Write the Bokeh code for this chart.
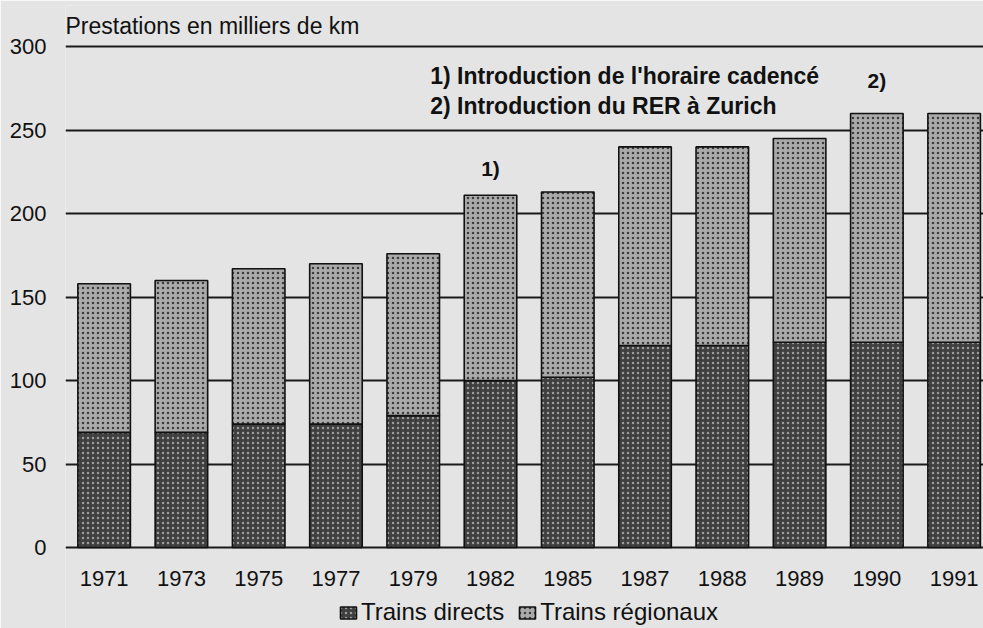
from bokeh.plotting import figure
from bokeh.models import ColumnDataSource, Range1d, FixedTicker, Label, Legend, LegendItem
from bokeh.core.properties import value
from bokeh.embed import file_html
from bokeh.resources import INLINE

years = ["1971", "1973", "1975", "1977", "1979", "1982", "1985", "1987", "1988", "1989", "1990", "1991"]
directs = [69, 69, 74, 74, 79, 100, 102, 121, 121, 123, 123, 123]
totals = [158, 160, 167, 170, 176, 211, 213, 240, 240, 245, 260, 260]
regionaux = [t - d for t, d in zip(totals, directs)]
y_ticks = [0, 50, 100, 150, 200, 250, 300]
notes = ["1) Introduction de l'horaire cadencé", "2) Introduction du RER à Zurich"]
marks = [("1)", 5, 16), ("2)", 10, 20)]

FONT = "Liberation Sans"
BG = "#e4e4e4"
INK = "#111111"

xs = list(range(len(years)))
src = ColumnDataSource(dict(x=xs, directs=directs, regionaux=regionaux, year=years,
                            ylab=[-18.6] * len(years)))

p = figure(width=983, height=628, x_range=Range1d(-0.5, 11.38), y_range=Range1d(-48.5, 324.7),
           output_backend="svg", toolbar_location=None,
           min_border_left=65, min_border_right=0, min_border_top=5, min_border_bottom=0,
           background_fill_color=BG, border_fill_color=BG, outline_line_color=None)

rs = p.vbar_stack(["directs", "regionaux"], x="x", width=0.68, source=src,
                  fill_color=["#3f3f3f", "#aaaaaa"],
                  hatch_pattern=[".", "."],
                  hatch_color=["#9c9c9c", "#3c3c3c"],
                  hatch_scale=[5, 5], hatch_weight=[2.6, 3.0],
                  line_color=INK, line_width=1.6)

p.text(x="x", y="ylab", text="year", source=src, text_font=value(FONT), text_font_size="22px",
       text_align="center", text_baseline="middle", text_color=INK)

p.xaxis.visible = False
p.xgrid.grid_line_color = None
p.ygrid.grid_line_color = "#1a1a1a"
p.ygrid.grid_line_width = 2
p.ygrid.ticker = FixedTicker(ticks=y_ticks)

p.yaxis.ticker = FixedTicker(ticks=y_ticks)
p.yaxis.axis_line_color = None
p.yaxis.major_tick_line_color = None
p.yaxis.minor_tick_line_color = None
p.yaxis.major_label_standoff = 13
p.yaxis.major_label_text_font = FONT
p.yaxis.major_label_text_font_size = "22px"
p.yaxis.major_label_text_color = INK

p.add_layout(Label(x=-0.5, y=312.7, text="Prestations en milliers de km", text_font=FONT,
                   text_font_size="23px", text_baseline="middle", text_color=INK))
for i, line in enumerate(notes):
    p.add_layout(Label(x=4.22, y=282.2 - 18 * i, text=line, text_font=FONT, text_font_size="23px",
                       text_font_style="bold", text_baseline="middle", text_color=INK))
for txt, idx, off in marks:
    p.add_layout(Label(x=idx, y=totals[idx] + off, text=txt, text_font=FONT, text_font_size="21px",
                       text_font_style="bold", text_align="center", text_baseline="middle",
                       text_color=INK))

legend = Legend(items=[LegendItem(label="Trains directs", renderers=[rs[0]]),
                       LegendItem(label="Trains régionaux", renderers=[rs[1]])],
                orientation="horizontal", location=(273, 2),
                glyph_width=20, glyph_height=15, label_standoff=3, spacing=13,
                padding=0, margin=0, border_line_alpha=0, background_fill_alpha=0,
                label_text_font=FONT, label_text_font_size="24px", label_text_color=INK)
p.add_layout(legend, "center")

open("out.html", "w").write(file_html(p, INLINE))
